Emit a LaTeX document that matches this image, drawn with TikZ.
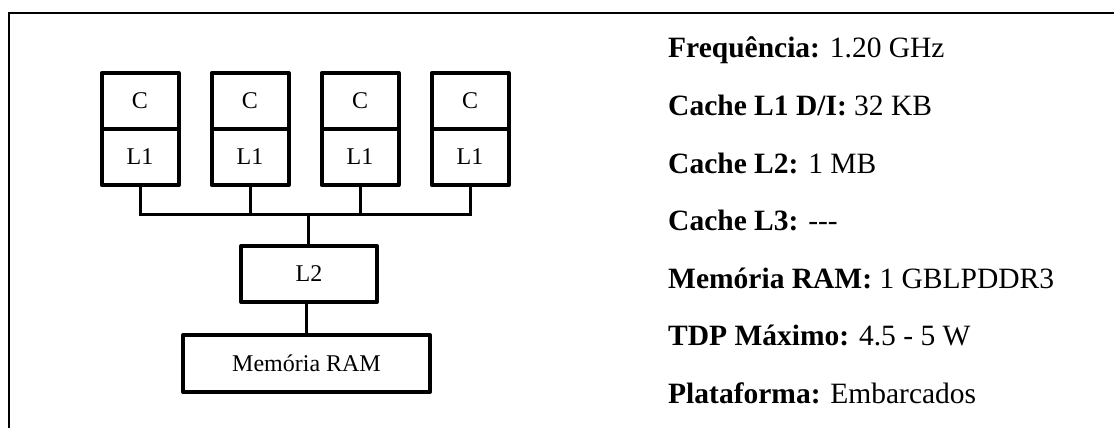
\documentclass[tikz,border=0pt]{standalone}
\usepackage{fontspec}
\setmainfont{Liberation Serif}
\usepackage{tikz}
\usetikzlibrary{calc, positioning}

\tikzset{
    corebox/.style={draw, line width=4pt, line join=round, minimum width=77pt,
        inner sep=0pt, outer sep=0pt, font=\fontsize{24}{27}\selectfont},
    wire/.style={line width=3pt},
    frameline/.style={line width=1.5pt},
    spec/.style={anchor=base west, inner sep=0pt, font=\fontsize{29.5}{34}\selectfont}
}

\begin{document}
\begin{tikzpicture}[x=1pt, y=-1pt]
    \useasboundingbox (0,0) rectangle (1114,428);
    \draw[frameline] (9,428) -- (9,13) -- (1114,13);
    % cores with L1
    \foreach \i/\x in {1/140, 2/250, 3/360, 4/470} {
        \node[corebox, minimum height=56pt, anchor=north] (c\i) at (\x,73) {C};
        \node[corebox, minimum height=56pt, anchor=north] (l\i) at (c\i.south) {L1};
    }
    \node[corebox, minimum width=136pt, minimum height=56pt] (l2cache) at (309,274) {L2};
    \node[corebox, minimum width=247pt, minimum height=57pt] (ram) at (306.5,363.5) {Memória RAM};
    \coordinate (bus) at (308,214);
    \draw[wire] (l1.south) |- (bus) -| (l4.south);
    \draw[wire] (l2.south) -- (l2.south |- bus);
    \draw[wire] (l3.south) -- (l3.south |- bus);
    \draw[wire] (bus) -- (bus |- l2cache.north);
    \draw[wire] (l2cache.south -| ram.north) -- (ram.north);
    % specs
    \node[spec] (freq) at (668,58) {\textbf{Frequência:} 1.20 GHz};
    \node[spec] (cl1) at (668,115.5) {\textbf{Cache L1 D/I:} 32 KB};
    \node[spec] (cl2) at (668,173) {\textbf{Cache L2:} 1 MB};
    \node[spec] (cl3) at (668,230.5) {\textbf{Cache L3:} -\kern0pt-\kern0pt-};
    \node[spec] (mem) at (668,288) {\textbf{Memória RAM:} 1 GBLPDDR3};
    \node[spec] (tdp) at (668,345.5) {\textbf{TDP Máximo:} 4.5 - 5 W};
    \node[spec] (plat) at (668,403) {\textbf{Plataforma:} Embarcados};
\end{tikzpicture}
\end{document}
